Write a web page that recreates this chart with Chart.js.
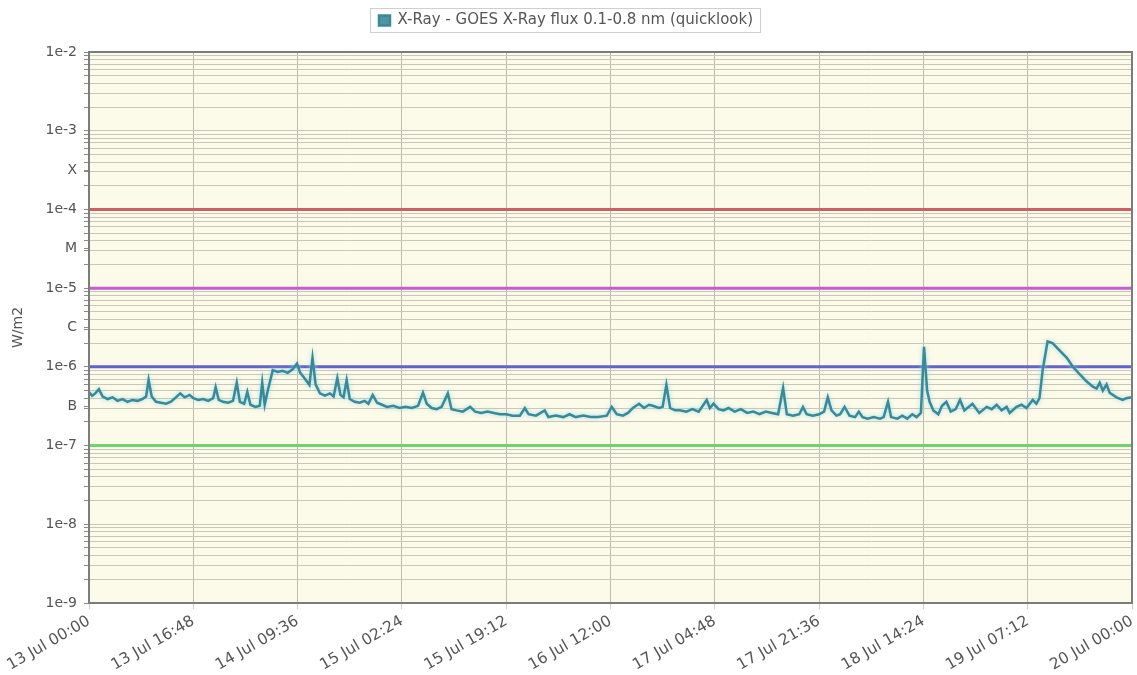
<!DOCTYPE html>
<html>
<head>
<meta charset="utf-8">
<script src="https://cdn.jsdelivr.net/npm/chart.js@4.4.0/dist/chart.umd.min.js"></script>
<style>
  html, body { margin: 0; padding: 0; background: #fff; }
  #wrap { width: 1137px; height: 675px; position: relative; }
</style>
</head>
<body>
<div id="wrap"><canvas id="xrayChart"></canvas></div>
<script>
// hours since 13 Jul 00:00
const xTickHours = [0, 16.8, 33.6, 50.4, 67.2, 84, 100.8, 117.6, 134.4, 151.2, 168];
const xTickLabels = ['13 Jul 00:00', '13 Jul 16:48', '14 Jul 09:36', '15 Jul 02:24', '15 Jul 19:12',
  '16 Jul 12:00', '17 Jul 04:48', '17 Jul 21:36', '18 Jul 14:24', '19 Jul 07:12', '20 Jul 00:00'];

const decadeTicks = [1e-9, 1e-8, 1e-7, 1e-6, 1e-5, 1e-4, 1e-3, 1e-2];
const decadeLabels = ['1e-9', '1e-8', '1e-7', '1e-6', '1e-5', '1e-4', '1e-3', '1e-2'];
const classTicks = [3.16e-7, 3.16e-6, 3.16e-5, 3.16e-4];
const classLabels = ['B', 'C', 'M', 'X'];

const thresholdValues = [1e-4, 1e-5, 1e-6, 1e-7];

const fluxHours = [
  0.0, 0.5, 1.0, 1.6, 2.2, 3.0, 3.8, 4.6, 5.4, 6.2, 7.0, 7.8, 8.6, 9.2, 9.6, 10.1, 10.8, 11.6, 12.4, 13.2,
  14.0, 14.7, 15.4, 16.2, 16.8, 17.6, 18.4, 19.2, 20.0, 20.4, 20.9, 21.6, 22.4, 23.2, 23.8, 24.3, 25.0, 25.5, 26.0, 26.8,
  27.5, 27.9, 28.3, 28.8, 29.6, 30.4, 31.2, 32.0, 32.8, 33.5, 34.0, 34.8, 35.5, 36.0, 36.5, 37.2, 38.0, 38.8, 39.4, 40.0,
  40.5, 41.0, 41.5, 42.0, 42.8, 43.6, 44.4, 45.0, 45.7, 46.4, 47.2, 48.0, 49.0, 50.0, 51.0, 52.0, 53.0, 53.8, 54.4, 55.2,
  56.0, 56.8, 57.8, 58.4, 59.2, 60.2, 61.4, 62.2, 63.2, 64.2, 65.2, 66.2, 67.2, 68.2, 69.4, 70.2, 70.8, 72.0, 73.4, 74.0,
  75.2, 76.4, 77.4, 78.4, 79.6, 80.8, 82.0, 83.4, 84.2, 85.0, 86.0, 86.8, 87.6, 88.6, 89.4, 90.2, 90.8, 91.8, 92.4, 93.0,
  93.6, 94.4, 95.2, 96.2, 97.2, 98.2, 99.5, 100.0, 100.6, 101.4, 102.2, 103.0, 104.0, 105.0, 106.0, 107.0, 108.0, 109.0, 110.0, 111.0,
  111.8, 112.4, 113.4, 114.4, 115.0, 115.6, 116.6, 117.6, 118.4, 119.0, 119.6, 120.4, 121.0, 121.7, 122.5, 123.4, 124.0, 124.6, 125.4, 126.4,
  127.4, 128.0, 128.7, 129.2, 130.2, 131.0, 131.8, 132.6, 133.3, 134.0, 134.5, 135.0, 135.4, 136.0, 136.8, 137.4, 138.1, 138.8, 139.6, 140.3,
  141.0, 142.3, 143.4, 144.6, 145.4, 146.2, 147.0, 147.8, 148.3, 149.4, 150.2, 151.0, 152.0, 152.6, 153.1, 153.6, 154.4, 155.2, 156.4, 157.5,
  158.5, 159.6, 160.7, 161.7, 162.3, 162.8, 163.3, 163.9, 164.4, 165.5, 166.5, 167.1, 168.0
];
const fluxValues = [
  4.8e-7, 4.3e-7, 4.6e-7, 5.2e-7, 4.2e-7, 3.9e-7, 4.1e-7, 3.7e-7, 3.9e-7, 3.6e-7, 3.8e-7, 3.7e-7, 3.9e-7, 4.2e-7, 6.8e-7, 4.2e-7, 3.6e-7, 3.5e-7, 3.4e-7, 3.6e-7,
  4.1e-7, 4.6e-7, 4.1e-7, 4.4e-7, 4.0e-7, 3.8e-7, 3.9e-7, 3.7e-7, 4.0e-7, 5.5e-7, 3.8e-7, 3.6e-7, 3.5e-7, 3.7e-7, 6.3e-7, 3.6e-7, 3.4e-7, 4.8e-7, 3.3e-7, 3.1e-7,
  3.2e-7, 6.3e-7, 3.3e-7, 5.0e-7, 9.1e-7, 8.6e-7, 8.9e-7, 8.4e-7, 9.3e-7, 1.1e-6, 8.5e-7, 7.0e-7, 5.9e-7, 1.3e-6, 6.0e-7, 4.6e-7, 4.3e-7, 4.6e-7, 4.2e-7, 7.2e-7,
  4.4e-7, 4.1e-7, 6.8e-7, 3.9e-7, 3.6e-7, 3.5e-7, 3.7e-7, 3.4e-7, 4.4e-7, 3.5e-7, 3.3e-7, 3.1e-7, 3.2e-7, 3.0e-7, 3.1e-7, 3.0e-7, 3.2e-7, 4.7e-7, 3.4e-7, 3.0e-7,
  2.9e-7, 3.1e-7, 4.6e-7, 2.9e-7, 2.8e-7, 2.7e-7, 3.1e-7, 2.7e-7, 2.6e-7, 2.7e-7, 2.6e-7, 2.5e-7, 2.5e-7, 2.4e-7, 2.4e-7, 3.0e-7, 2.5e-7, 2.4e-7, 2.8e-7, 2.3e-7,
  2.4e-7, 2.3e-7, 2.5e-7, 2.3e-7, 2.4e-7, 2.3e-7, 2.3e-7, 2.4e-7, 3.1e-7, 2.5e-7, 2.4e-7, 2.6e-7, 3.0e-7, 3.4e-7, 3.0e-7, 3.3e-7, 3.2e-7, 3.0e-7, 3.1e-7, 5.9e-7,
  3.0e-7, 2.8e-7, 2.8e-7, 2.7e-7, 2.9e-7, 2.7e-7, 3.8e-7, 3.0e-7, 3.4e-7, 2.9e-7, 2.8e-7, 3.0e-7, 2.7e-7, 2.9e-7, 2.6e-7, 2.7e-7, 2.5e-7, 2.7e-7, 2.6e-7, 2.5e-7,
  5.4e-7, 2.5e-7, 2.4e-7, 2.5e-7, 3.1e-7, 2.5e-7, 2.4e-7, 2.5e-7, 2.7e-7, 4.1e-7, 2.8e-7, 2.4e-7, 2.5e-7, 3.1e-7, 2.4e-7, 2.3e-7, 2.7e-7, 2.3e-7, 2.2e-7, 2.3e-7,
  2.2e-7, 2.3e-7, 3.6e-7, 2.3e-7, 2.2e-7, 2.4e-7, 2.2e-7, 2.5e-7, 2.3e-7, 2.6e-7, 1.8e-6, 5.0e-7, 3.6e-7, 2.8e-7, 2.5e-7, 3.2e-7, 3.6e-7, 2.7e-7, 2.9e-7, 3.8e-7,
  2.8e-7, 3.4e-7, 2.6e-7, 3.1e-7, 2.9e-7, 3.3e-7, 2.8e-7, 3.1e-7, 2.6e-7, 3.1e-7, 3.3e-7, 3.0e-7, 3.8e-7, 3.4e-7, 4.0e-7, 9.0e-7, 2.1e-6, 2.0e-6, 1.6e-6, 1.3e-6,
  1.0e-6, 8.0e-7, 6.5e-7, 5.6e-7, 5.3e-7, 6.3e-7, 5.0e-7, 6.0e-7, 4.7e-7, 4.1e-7, 3.8e-7, 4.0e-7, 4.1e-7
];

const isNear = (a, b) => Math.abs(a - b) / b < 1e-6;

const thresholdStyles = ['#cf5f63', '#c75bd0', '#6262cf', '#6fd46f'];
const thresholdSets = thresholdValues.map((v, i) => ({
  label: 'limit' + i,
  data: [{ x: xTickHours[0], y: v }, { x: xTickHours[xTickHours.length - 1], y: v }],
  borderColor: thresholdStyles[i],
  borderWidth: 3,
  pointRadius: 0,
  order: 2
}));

// fond crème + cadre du graphique + cadre de la légende
const plotFrame = {
  id: 'plotFrame',
  beforeDraw(chart) {
    const { ctx, chartArea: a } = chart;
    ctx.save();
    ctx.fillStyle = '#fcfae8';
    ctx.fillRect(a.left, a.top, a.right - a.left, a.bottom - a.top);
    ctx.restore();
  },
  beforeDatasetDraw(chart, args) {
    if (args.index === 0) {
      chart.ctx.save();
      chart.ctx.shadowColor = 'rgba(140, 220, 235, 0.9)';
      chart.ctx.shadowBlur = 4;
    }
  },
  afterDatasetDraw(chart, args) {
    if (args.index === 0) chart.ctx.restore();
  },
  afterDraw(chart) {
    const { ctx, chartArea: a } = chart;
    ctx.save();
    ctx.strokeStyle = '#7c7c7c';
    ctx.lineWidth = 2;
    ctx.strokeRect(a.left, a.top, a.right - a.left, a.bottom - a.top);
    const hb = chart.legend.legendHitBoxes[0];
    if (hb) {
      ctx.strokeStyle = '#cfcfcf';
      ctx.lineWidth = 1;
      ctx.strokeRect(hb.left - 8.5, hb.top - 4.5, hb.width + 16, hb.height + 9);
    }
    ctx.restore();
  }
};

Chart.defaults.font.family = "'DejaVu Sans', sans-serif";
Chart.defaults.color = '#555';

new Chart(document.getElementById('xrayChart'), {
  type: 'line',
  data: {
    datasets: [{
      label: 'X-Ray - GOES X-Ray flux 0.1-0.8 nm (quicklook)',
      data: fluxHours.map((h, i) => ({ x: h, y: fluxValues[i] })),
      borderColor: '#3b8896',
      backgroundColor: '#4a97a3',
      borderWidth: 2.5,
      pointRadius: 0,
      tension: 0,
      order: 1
    }, ...thresholdSets]
  },
  options: {
    responsive: true,
    maintainAspectRatio: false,
    animation: false,
    layout: { padding: { top: 3, right: 5, left: 0, bottom: 0 } },
    plugins: {
      legend: {
        position: 'top',
        labels: {
          filter: item => item.datasetIndex === 0,
          boxWidth: 11,
          boxHeight: 10,
          padding: 10,
          font: { size: 15 },
          color: '#555'
        }
      },
      subtitle: {
        display: true,
        text: ' ',
        weight: 500,
        font: { size: 10 },
        padding: { top: 0, bottom: 2 }
      },
      tooltip: { enabled: false }
    },
    scales: {
      x: {
        type: 'linear',
        min: xTickHours[0],
        max: xTickHours[xTickHours.length - 1],
        afterBuildTicks: scale => { scale.ticks = xTickHours.map(v => ({ value: v })); },
        afterFit: scale => {
          scale.height = 72;
          scale.paddingRight = 0;
          scale.paddingLeft = 0;
        },
        ticks: {
          autoSkip: false,
          minRotation: 30,
          maxRotation: 30,
          padding: 3,
          font: { size: 15.5 },
          color: '#555',
          callback: (v, i) => xTickLabels[i]
        },
        grid: { color: '#bdbbb2', tickLength: 6, tickColor: '#cccccc' },
        border: { display: false }
      },
      y: {
        type: 'logarithmic',
        min: decadeTicks[0],
        max: decadeTicks[decadeTicks.length - 1],
        afterBuildTicks: scale => {
          const t = [];
          decadeTicks.forEach((d, i) => {
            t.push({ value: d });
            if (i < decadeTicks.length - 1) {
              for (let m = 2; m <= 9; m++) t.push({ value: d * m });
            }
          });
          classTicks.forEach(v => t.push({ value: v }));
          t.sort((a, b) => a.value - b.value);
          scale.ticks = t;
        },
        afterFit: scale => { scale.width = 89; },
        title: { display: true, text: 'W/m2', color: '#555', font: { size: 14 }, padding: { top: 10, bottom: 0 } },
        ticks: {
          autoSkip: false,
          font: { size: 14 },
          color: '#555',
          padding: 7,
          callback: v => {
            const di = decadeTicks.findIndex(d => isNear(v, d));
            if (di >= 0) return decadeLabels[di];
            const ci = classTicks.findIndex(d => isNear(v, d));
            if (ci >= 0) return classLabels[ci];
            return '';
          }
        },
        grid: {
          color: c => classTicks.some(d => isNear(c.tick.value, d)) ? 'rgba(0,0,0,0)' : '#cbc7b8',
          tickLength: 5,
          tickColor: '#8a8a8a'
        },
        border: { display: false }
      }
    }
  },
  plugins: [plotFrame]
});
</script>
</body>
</html>
